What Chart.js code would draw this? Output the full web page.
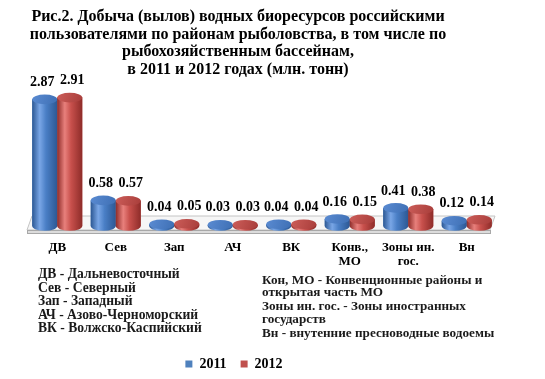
<!DOCTYPE html>
<html>
<head>
<meta charset="utf-8">
<script src="https://cdn.jsdelivr.net/npm/chart.js@4"></script>
<style>
html,body{margin:0;padding:0;background:#fff;}
#wrap{position:relative;width:545px;height:379px;}
canvas{position:absolute;left:0;top:0;}
.note{position:absolute;font-family:"Liberation Serif","Times New Roman",serif;font-weight:bold;color:#1a1a1a;white-space:nowrap;}
.note div{height:13.5px;line-height:13.5px;}
</style>
</head>
<body>
<div id="wrap">
<canvas id="c" width="545" height="379"></canvas>
<div class="note" id="n1" style="left:38px;top:267px;font-size:13.6px;">
<div>ДВ - Дальневосточный</div>
<div>Сев - Северный</div>
<div>Зап - Западный</div>
<div>АЧ - Азово-Черноморский</div>
<div>ВК - Волжско-Каспийский</div>
</div>
<div class="note" id="n2" style="left:262px;top:272.5px;font-size:13.2px;">
<div>Кон, МО - Конвенционные районы и</div>
<div style="height:12.5px;line-height:12.5px">открытая часть МО</div>
<div>Зоны ин. гос. - Зоны иностранных</div>
<div>государств</div>
<div>Вн - внутенние пресноводные водоемы</div>
</div>
</div>
<script>
const titleLines = [
  'Рис.2. Добыча (вылов) водных биоресурсов российскими',
  'пользователями по районам рыболовства, в том числе по',
  'рыбохозяйственным бассейнам,',
  'в 2011 и 2012 годах (млн. тонн)'
];
const categories = ['ДВ','Сев','Зап','АЧ','ВК',['Конв.,','МО'],['Зоны ин.','гос.'],'Вн'];
const seriesNames = ['2011','2012'];
const values2011 = [2.87,0.58,0.04,0.03,0.04,0.16,0.41,0.12];
const values2012 = [2.91,0.57,0.05,0.03,0.04,0.15,0.38,0.14];

const SERIF = '"Liberation Serif","Times New Roman",serif';
const palettes = [
  {base:'#4f81bd', dark:'#2c5894', light:'#79a6e6', mid:'#4a7fc6', top:'#5a8bd2', topEdge:'#3e6fb4'},
  {base:'#c0504d', dark:'#8e2c29', light:'#e8807c', mid:'#c8504c', top:'#cc5d59', topEdge:'#a83d3a'}
];

const floorPlugin = {
  id:'floor',
  beforeDatasetsDraw(chart){
    const ctx = chart.ctx, a = chart.chartArea, y0 = chart.scales.y.getPixelForValue(0);
    const L = a.left - 1, R = a.right - 1;
    const back = y0 - 10, front = y0 + 4, depth = 5;
    ctx.save();
    ctx.beginPath();
    ctx.moveTo(L + depth, back); ctx.lineTo(R, back); ctx.lineTo(R - depth, front); ctx.lineTo(L, front); ctx.closePath();
    ctx.fillStyle = '#f6f6f6'; ctx.fill();
    ctx.strokeStyle = '#c4c4c4'; ctx.lineWidth = 1; ctx.stroke();
    ctx.fillStyle = '#dcdcdc';
    ctx.fillRect(L, front, R - depth - L, 3);
    ctx.strokeStyle = '#a8a8a8';
    ctx.strokeRect(L + 0.5, front + 0.5, R - depth - L, 3);
    ctx.restore();
  }
};

const cylinderPlugin = {
  id:'cyl',
  afterDatasetsDraw(chart){
    const ctx = chart.ctx;
    chart.data.datasets.forEach((ds, di) => {
      const meta = chart.getDatasetMeta(di);
      const p = palettes[di];
      meta.data.forEach((bar, i) => {
        const {x, y, base, width} = bar.getProps(['x','y','base','width'], true);
        const rx = width / 2, ry = 4.8;
        const l = x - rx, r = x + rx;
        const g = ctx.createLinearGradient(l, 0, r, 0);
        g.addColorStop(0, p.dark);
        g.addColorStop(0.3, p.light);
        g.addColorStop(0.55, p.mid);
        g.addColorStop(1, p.dark);
        ctx.save();
        ctx.beginPath();
        ctx.moveTo(l, y);
        ctx.lineTo(l, base);
        ctx.ellipse(x, base, rx, ry, 0, Math.PI, 0, true);
        ctx.lineTo(r, y);
        ctx.closePath();
        ctx.fillStyle = g; ctx.fill();
        const tg = ctx.createLinearGradient(l, y - ry, r, y + ry);
        tg.addColorStop(0, p.top);
        tg.addColorStop(1, p.topEdge);
        ctx.beginPath();
        ctx.ellipse(x, y, rx, ry, 0, 0, Math.PI * 2);
        ctx.fillStyle = tg; ctx.fill();
        ctx.restore();
        ctx.save();
        ctx.font = 'bold 14px ' + SERIF;
        ctx.fillStyle = '#000';
        ctx.textAlign = 'center';
        ctx.textBaseline = 'middle';
        ctx.fillText(ds.data[i].toFixed(2), x + (di === 0 ? -2.5 : 2.5), y - 17);
        ctx.restore();
      });
    });
  }
};

const shiftBoxes = {
  id:'shiftBoxes',
  afterLayout(chart){
    const t = chart.titleBlock;
    if (t) { t.left -= 48; }
    const lg = chart.legend;
    if (lg) { lg.left -= 28; lg.right -= 28; lg.top += 5; lg.bottom += 5; }
  }
};

new Chart(document.getElementById('c'), {
  type:'bar',
  data:{
    labels: categories,
    datasets:[
      {label: seriesNames[0], data: values2011, backgroundColor: palettes[0].base, borderWidth:0},
      {label: seriesNames[1], data: values2012, backgroundColor: palettes[1].base, borderWidth:0}
    ]
  },
  options:{
    responsive:false,
    animation:false,
    devicePixelRatio:1,
    layout:{padding:{left:28, right:49, top:0, bottom:3}},
    datasets:{bar:{categoryPercentage:0.855, barPercentage:1}},
    scales:{
      x:{
        grid:{display:false, drawTicks:false},
        border:{display:false},
        ticks:{font:{family:SERIF, size:13, weight:'bold', lineHeight:1.1}, color:'#000', padding:14, maxRotation:0, autoSkip:false},
        afterFit(axis){ axis.height = 112; }
      },
      y:{display:false, min:0, max:3.3}
    },
    plugins:{
      title:{
        display:true,
        text: titleLines,
        font:{family:SERIF, size:16, weight:'bold', lineHeight:1.1},
        color:'#000',
        padding:{top:8, bottom:2}
      },
      legend:{
        position:'bottom',
        labels:{boxWidth:7, boxHeight:7, font:{family:SERIF, size:14, weight:'bold'}, color:'#000', padding:14}
      },
      tooltip:{enabled:false}
    }
  },
  plugins:[floorPlugin, cylinderPlugin, shiftBoxes]
});
</script>
</body>
</html>
